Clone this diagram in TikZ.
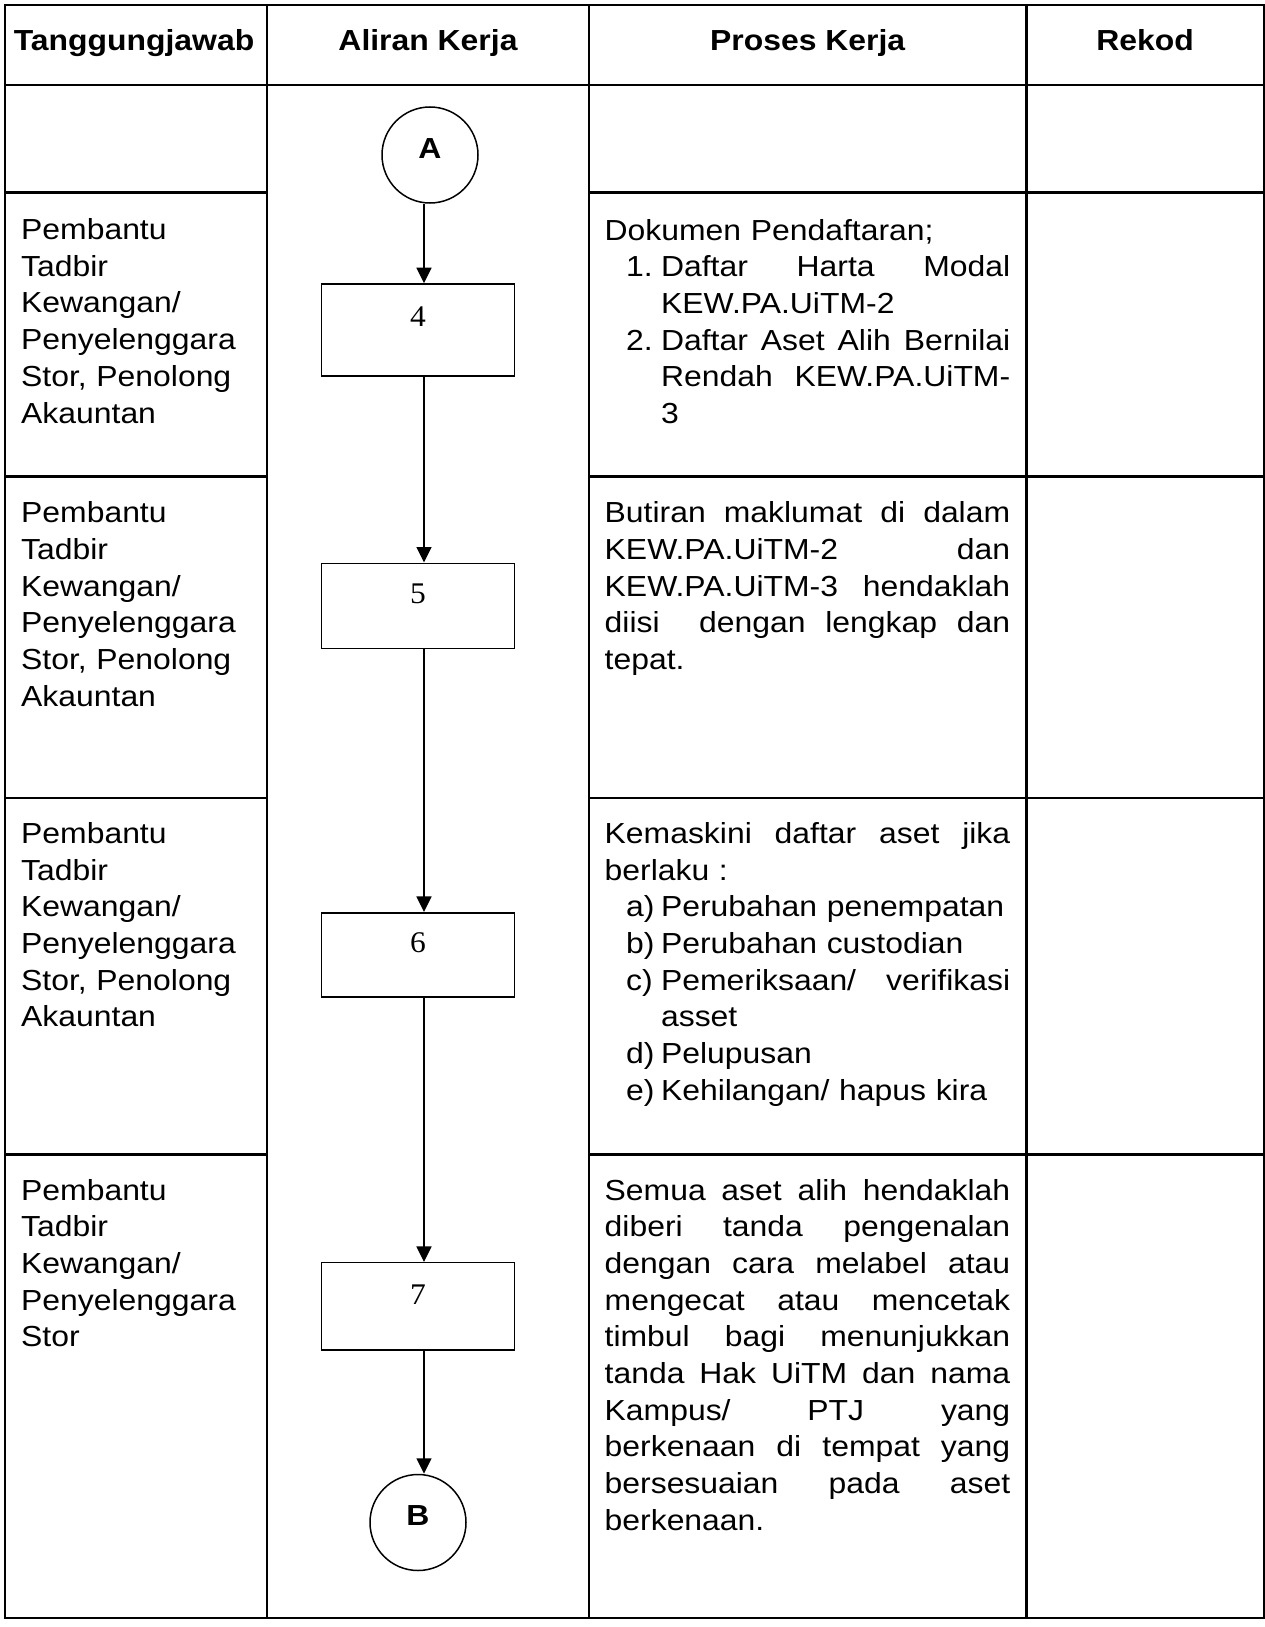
\documentclass[tikz,border=0pt]{standalone}
\usepackage{fontspec}
\setmainfont{Liberation Sans}[FakeStretch=1.1]
\newfontfamily\numfont{Liberation Serif}[FakeStretch=1.05]
\usetikzlibrary{arrows.meta}
\newcommand\jline[1]{\makebox[\linewidth][s]{\spaceskip=0pt\xspaceskip=0pt #1}}
\newcommand\nitem[2]{\makebox[56.4pt][l]{\hspace*{21.5pt}#1}#2}
\newcommand\nitemj[2]{\makebox[56.4pt][l]{\hspace*{21.5pt}#1}\makebox[349.1pt][s]{\spaceskip=0pt\xspaceskip=0pt #2}}
\newcommand\contl[1]{\hspace*{56.4pt}#1}
\begin{document}
\begin{tikzpicture}[x=1pt,y=-1pt,
  tbl/.style={line width=2.5pt},
  body/.style={inner sep=0pt, anchor=base west, font=\fontsize{29}{36.7}\selectfont},
  head/.style={inner sep=0pt, anchor=base, font=\bfseries\fontsize{29}{34}\selectfont},
  stepbox/.style={draw, line width=1.6pt, minimum width=192.7pt, inner sep=0pt,
    font=\numfont\fontsize{30}{34}\selectfont, text height=20.3pt, text depth=24.5pt},
  conn/.style={draw, circle, line width=1.5pt, minimum size=96pt, inner sep=0pt,
    font=\bfseries\fontsize{29}{32}\selectfont, text height=20.8pt},
  arr/.style={line width=1.5pt, -{Triangle[length=15.5pt,width=15pt]}}
]
\useasboundingbox (0,0) rectangle (1265,1627);
\fill[white] (0,0) rectangle (1265,1627);

% table
\draw[tbl] (5,5) rectangle (1264,1618);
\draw[tbl] (267,5) -- (267,1618);
\draw[tbl] (589,5) -- (589,1618);
\draw[tbl] (1026.5,5) -- (1026.5,1618);
\draw[tbl] (5,85) -- (1264,85);
\foreach \yy in {192.7,476.7,798,1154.5}{
  \draw[tbl] (5,\yy) -- (267,\yy);
  \draw[tbl] (589,\yy) -- (1264,\yy);
}

% headers
\node[head] (h1) at (134,50.5) {Tanggungjawab};
\node[head] (h2) at (428,50.5) {Aliran Kerja};
\node[head] (h3) at (807.7,50.5) {Proses Kerja};
\node[head] (h4) at (1145,50.5) {Rekod};

% responsibility column
\node[body, text width=240pt] (r4) at (21,239.5) {Pembantu\\ Tadbir\\ Kewangan/\\ Penyelenggara\\ Stor, Penolong\\ Akauntan};
\node[body, text width=240pt] (r5) at (21,522.7) {Pembantu\\ Tadbir\\ Kewangan/\\ Penyelenggara\\ Stor, Penolong\\ Akauntan};
\node[body, text width=240pt] (r6) at (21,843.3) {Pembantu\\ Tadbir\\ Kewangan/\\ Penyelenggara\\ Stor, Penolong\\ Akauntan};
\node[body, text width=240pt] (r7) at (21,1200) {Pembantu\\ Tadbir\\ Kewangan/\\ Penyelenggara\\ Stor};

% flow
\node[conn, text depth=14.2pt] (A) at (430,155) {A};
\node[stepbox, minimum height=92pt, text depth=26.5pt] (b4) at (418,330) {4};
\node[stepbox, minimum height=85pt] (b5) at (418,605.8) {5};
\node[stepbox, minimum height=84pt] (b6) at (418,954.7) {6};
\node[stepbox, minimum height=87.3pt] (b7) at (418,1306.3) {7};
\node[conn, text depth=15.8pt] (B) at (418,1522.5) {B};
\coordinate (ax) at (424,0);
\draw[arr] (A.south -| ax) -- (b4.north -| ax);
\draw[arr] (b4.south -| ax) -- (b5.north -| ax);
\draw[arr] (b5.south -| ax) -- (b6.north -| ax);
\draw[arr] (b6.south -| ax) -- (b7.north -| ax);
\draw[arr] (b7.south -| ax) -- (B.north -| ax);

% process column
\node[body, text width=405.5pt] (p4) at (604.5,240) {Dokumen Pendaftaran;\\
\nitemj{1.}{Daftar Harta Modal}\\
\contl{KEW.PA.UiTM-2}\\
\nitemj{2.}{Daftar Aset Alih Bernilai}\\
\hspace*{56.4pt}\makebox[349.1pt][s]{\spaceskip=0pt\xspaceskip=0pt Rendah KEW.PA.UiTM-}\\
\contl{3}};

\node[body, text width=405.5pt] (p5) at (604.5,522.7) {\jline{Butiran maklumat di dalam}\\
\jline{KEW.PA.UiTM-2 dan}\\
\jline{KEW.PA.UiTM-3 hendaklah}\\
\jline{diisi\ \ dengan lengkap dan}\\
tepat.};

\node[body, text width=405.5pt] (p6) at (604.5,843.3) {\jline{Kemaskini daftar aset jika}\\
berlaku :\\
\nitem{a)}{Perubahan penempatan}\\
\nitem{b)}{Perubahan custodian}\\
\nitemj{c)}{Pemeriksaan/ verifikasi}\\
\contl{asset}\\
\nitem{d)}{Pelupusan}\\
\nitem{e)}{Kehilangan/ hapus kira}};

\node[body, text width=405.5pt] (p7) at (604.5,1200) {\jline{Semua aset alih hendaklah}\\
\jline{diberi tanda pengenalan}\\
\jline{dengan cara melabel atau}\\
\jline{mengecat atau mencetak}\\
\jline{timbul bagi menunjukkan}\\
\jline{tanda Hak UiTM dan nama}\\
\jline{Kampus/ PTJ yang}\\
\jline{berkenaan di tempat yang}\\
\jline{bersesuaian pada aset}\\
berkenaan.};
\end{tikzpicture}
\end{document}
